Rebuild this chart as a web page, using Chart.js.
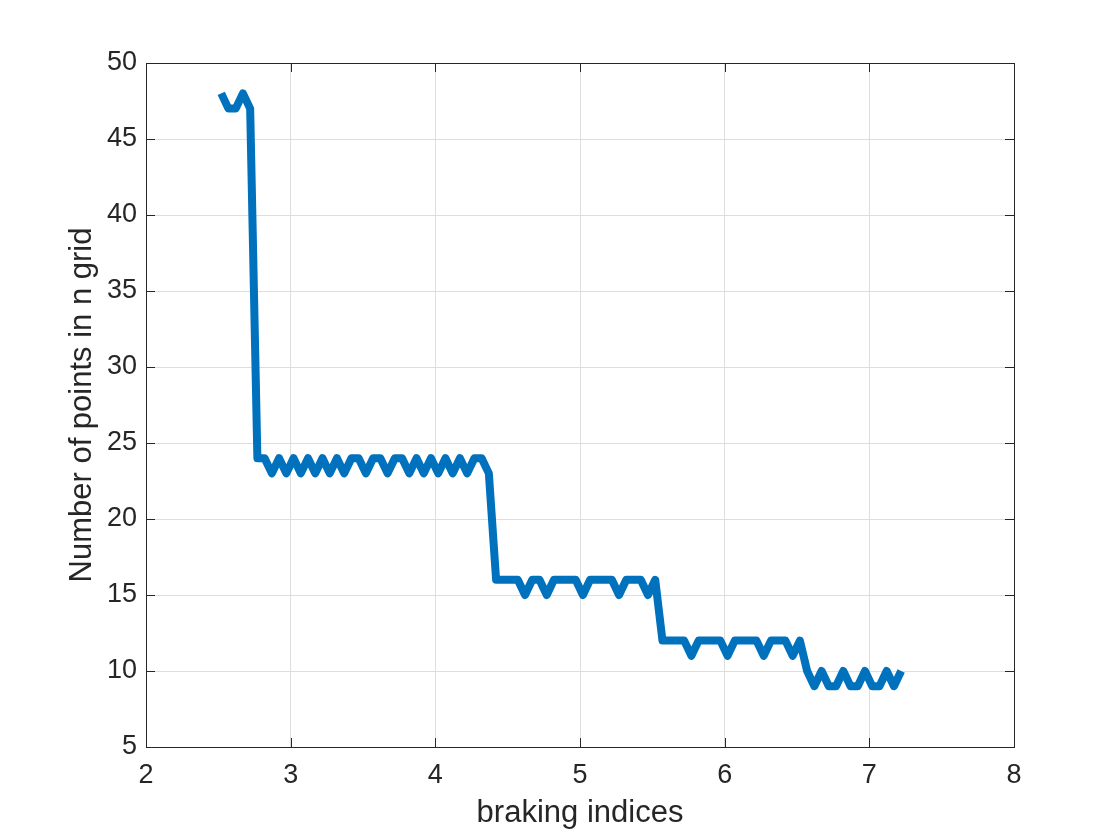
<!DOCTYPE html>
<html>
<head>
<meta charset="utf-8">
<script src="https://cdn.jsdelivr.net/npm/chart.js@4/dist/chart.umd.min.js"></script>
<style>
  body { margin: 0; background: #fff; }
  #mycanvas { display: block; }
</style>
</head>
<body>
<canvas id="mycanvas" width="1120" height="840"></canvas>
<script>
// braking index (x) vs number of grid points (y)
var brakingIdx = [
  2.52, 2.57, 2.62, 2.67, 2.72, 2.77, 2.82, 2.87, 2.92, 2.97,
  3.02, 3.07, 3.12, 3.17, 3.22, 3.27, 3.32, 3.37, 3.42, 3.47,
  3.52, 3.57, 3.62, 3.67, 3.72, 3.77, 3.82, 3.87, 3.92, 3.97,
  4.02, 4.07, 4.12, 4.17, 4.22, 4.27, 4.32, 4.37, 4.42, 4.47,
  4.52, 4.57, 4.62, 4.67, 4.72, 4.77, 4.82, 4.87, 4.92, 4.97,
  5.02, 5.07, 5.12, 5.17, 5.22, 5.27, 5.32, 5.37, 5.42, 5.47,
  5.52, 5.57, 5.62, 5.67, 5.72, 5.77, 5.82, 5.87, 5.92, 5.97,
  6.02, 6.07, 6.12, 6.17, 6.22, 6.27, 6.32, 6.37, 6.42, 6.47,
  6.52, 6.57, 6.62, 6.67, 6.72, 6.77, 6.82, 6.87, 6.92, 6.97,
  7.02, 7.07, 7.12, 7.17, 7.22
];
var nPoints = [
  48, 47, 47, 48, 47, 24, 24, 23, 24, 23,
  24, 23, 24, 23, 24, 23, 24, 23, 24, 24,
  23, 24, 24, 23, 24, 24, 23, 24, 23, 24,
  23, 24, 23, 24, 23, 24, 24, 23, 16, 16,
  16, 16, 15, 16, 16, 15, 16, 16, 16, 16,
  15, 16, 16, 16, 16, 15, 16, 16, 16, 15,
  16, 12, 12, 12, 12, 11, 12, 12, 12, 12,
  11, 12, 12, 12, 12, 11, 12, 12, 12, 11,
  12, 10, 9, 10, 9, 9, 10, 9, 9, 10,
  9, 9, 10, 9, 10
];
var xTicks = [2, 3, 4, 5, 6, 7, 8];
var yTicks = [5, 10, 15, 20, 25, 30, 35, 40, 45, 50];

var pts = [];
for (var i = 0; i < brakingIdx.length; i++) {
  pts.push({x: brakingIdx[i], y: nPoints[i]});
}

var axisCol = '#262626';
var fontFam = '"Liberation Sans", Arial, Helvetica, sans-serif';

// box around the axes + inward tick marks like matlab
var boxPlugin = {
  id: 'boxPlugin',
  afterDraw: function(chart) {
    var c = chart.ctx, a = chart.chartArea;
    var xs = chart.scales.x, ys = chart.scales.y;
    var tl = 9;
    c.save();
    c.strokeStyle = axisCol;
    c.lineWidth = 1;
    c.beginPath();
    xTicks.forEach(function(v) {
      var px = Math.round(xs.getPixelForValue(v)) + 0.5;
      c.moveTo(px, a.bottom); c.lineTo(px, a.bottom - tl);
      c.moveTo(px, a.top); c.lineTo(px, a.top + tl);
    });
    yTicks.forEach(function(v) {
      var py = Math.round(ys.getPixelForValue(v)) + 0.5;
      c.moveTo(a.left, py); c.lineTo(a.left + tl, py);
      c.moveTo(a.right, py); c.lineTo(a.right - tl, py);
    });
    c.stroke();
    c.strokeRect(Math.round(a.left) + 0.5, Math.round(a.top) + 0.5,
      Math.round(a.right - a.left), Math.round(a.bottom - a.top));
    c.restore();
  }
};

var ctx = document.getElementById('mycanvas');
var chart = new Chart(ctx, {
  type: 'line',
  data: {
    datasets: [{
      data: pts,
      borderColor: '#0072BD',
      borderWidth: 8,
      borderJoinStyle: 'round',
      borderCapStyle: 'butt',
      pointRadius: 0,
      tension: 0,
      fill: false
    }]
  },
  options: {
    responsive: false,
    devicePixelRatio: 1,
    animation: false,
    layout: { padding: { left: 64, top: 63, right: 106, bottom: 0 } },
    plugins: { legend: { display: false }, tooltip: { enabled: false } },
    scales: {
      x: {
        type: 'linear', min: 2, max: 8,
        afterBuildTicks: function(s) { s.ticks = xTicks.map(function(v) { return {value: v}; }); },
        afterFit: function(s) { s.height = 93; },
        grid: { color: '#dedede', drawTicks: false },
        border: { display: false },
        ticks: { color: axisCol, padding: 12, font: { family: fontFam, size: 27 }, maxRotation: 0 },
        title: { display: true, text: 'braking indices', color: axisCol,
          font: { family: fontFam, size: 31 }, padding: { top: 0, bottom: 8 } }
      },
      y: {
        type: 'linear', min: 5, max: 50,
        afterBuildTicks: function(s) { s.ticks = yTicks.map(function(v) { return {value: v}; }); },
        afterFit: function(s) { s.width = 82; },
        grid: { color: '#dedede', drawTicks: false },
        border: { display: false },
        ticks: { color: axisCol, padding: 9, font: { family: fontFam, size: 27 } },
        title: { display: true, text: 'Number of points in n grid', color: axisCol,
          font: { family: fontFam, size: 31 }, padding: { top: 0, bottom: 0 } }
      }
    }
  },
  plugins: [boxPlugin]
});
</script>
</body>
</html>
